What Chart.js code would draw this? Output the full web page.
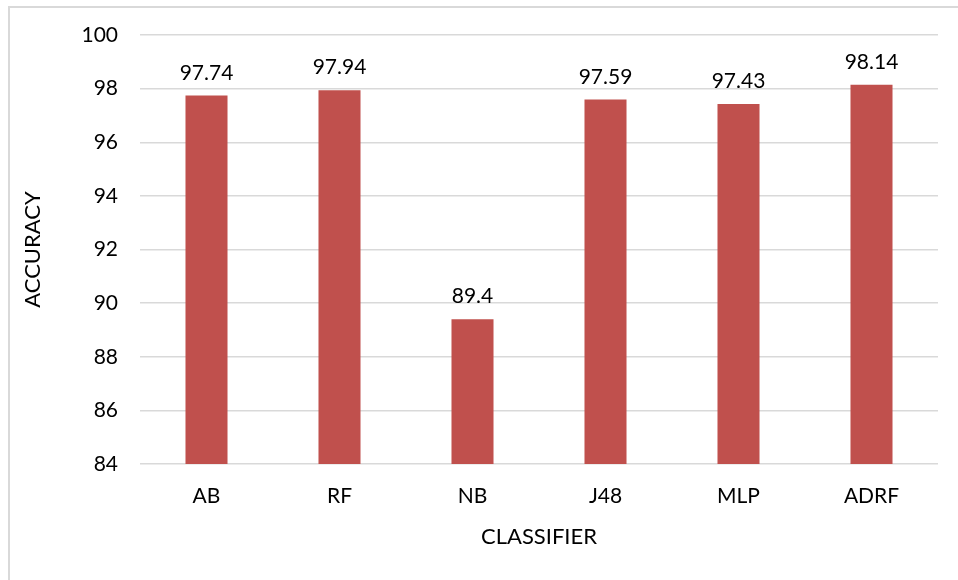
<!DOCTYPE html>
<html>
<head>
<meta charset="utf-8">
<script src="https://cdn.jsdelivr.net/npm/chart.js@4/dist/chart.umd.min.js"></script>
<style>
html,body{margin:0;padding:0;background:#fff;}
#wrap{width:958px;height:580px;position:relative;}
</style>
</head>
<body>
<div id="wrap"><canvas id="c" width="958" height="580"></canvas></div>
<script>
const categories = ["AB", "RF", "NB", "J48", "MLP", "ADRF"];
const accuracy = [97.74, 97.94, 89.4, 97.59, 97.43, 98.14];
const accuracyLabels = ["97.74", "97.94", "89.4", "97.59", "97.43", "98.14"];
const yTicks = [84, 86, 88, 90, 92, 94, 96, 98, 100];

const FONT = "Lato, 'Open Sans', sans-serif";

const framePlugin = {
  id: 'frame',
  beforeDraw(chart) {
    const ctx = chart.ctx;
    ctx.save();
    ctx.fillStyle = '#fff';
    ctx.fillRect(0, 0, chart.width, chart.height);
    ctx.strokeStyle = '#d9d9d9';
    ctx.lineWidth = 2;
    ctx.strokeRect(9, 7, 1200, 1200);
    ctx.restore();
  }
};

const labelPlugin = {
  id: 'barLabels',
  afterDatasetsDraw(chart) {
    const ctx = chart.ctx;
    const meta = chart.getDatasetMeta(0);
    ctx.save();
    ctx.font = "21px " + FONT;
    ctx.fillStyle = '#000';
    ctx.textAlign = 'center';
    ctx.textBaseline = 'alphabetic';
    meta.data.forEach((bar, i) => {
      ctx.fillText(accuracyLabels[i], bar.x, bar.y - 16);
    });
    ctx.restore();
  }
};

new Chart(document.getElementById('c'), {
  type: 'bar',
  data: {
    labels: categories,
    datasets: [{
      data: accuracy,
      backgroundColor: '#C0504D',
      borderWidth: 0,
      barPercentage: 0.316,
      categoryPercentage: 1.0
    }]
  },
  options: {
    responsive: false,
    animation: false,
    devicePixelRatio: 1,
    layout: { padding: { left: 0, right: 20, top: 35, bottom: 0 } },
    plugins: { legend: { display: false }, tooltip: { enabled: false } },
    scales: {
      y: {
        min: 84, max: 100,
        afterBuildTicks(scale) { scale.ticks = yTicks.map(v => ({ value: v })); },
        afterFit(scale) { scale.width = 140; },
        grid: { color: '#d9d9d9', lineWidth: 1.5, drawTicks: false },
        border: { display: false },
        ticks: { font: { size: 21, family: FONT }, color: '#000', padding: 22 },
        title: { display: true, text: 'ACCURACY', font: { size: 22, family: FONT }, color: '#000', padding: { top: 20, bottom: 0 } }
      },
      x: {
        afterFit(scale) { scale.height = 116; },
        grid: { display: false, drawTicks: false },
        border: { display: false },
        ticks: { font: { size: 21, family: FONT }, color: '#000', padding: 20 },
        title: { display: true, text: 'CLASSIFIER', font: { size: 22, family: FONT }, color: '#000', padding: { top: 10, bottom: 30 } }
      }
    }
  },
  plugins: [framePlugin, labelPlugin]
});
</script>
</body>
</html>
